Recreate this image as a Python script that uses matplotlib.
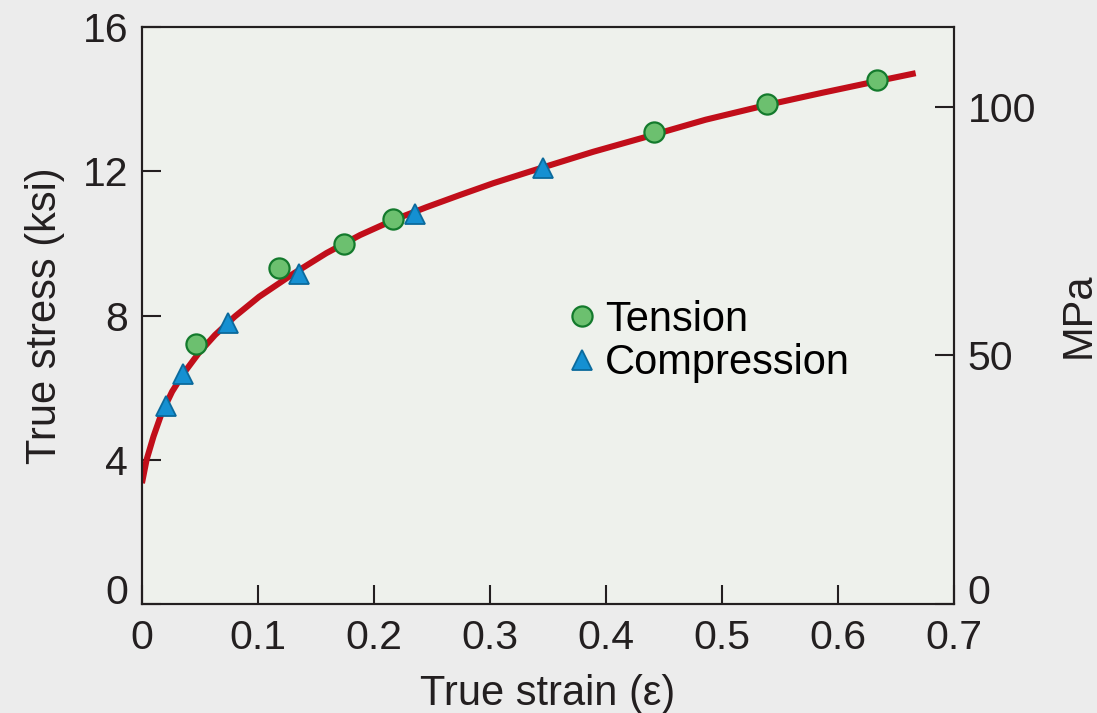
import numpy as np
import matplotlib
matplotlib.use("Agg")
import matplotlib.pyplot as plt

# fitted curve (strain, stress ksi)
curve_strain = [0.000, 0.004, 0.010, 0.017, 0.026, 0.036, 0.049, 0.063, 0.080,
                0.101, 0.131, 0.159, 0.188, 0.217, 0.245, 0.274, 0.303, 0.346,
                0.389, 0.432, 0.486, 0.539, 0.587, 0.634, 0.667]
curve_stress = [3.35, 4.00, 4.65, 5.29, 5.89, 6.40, 6.96, 7.46, 7.97,
                8.52, 9.17, 9.73, 10.23, 10.65, 11.00, 11.34, 11.67, 12.11,
                12.54, 12.93, 13.43, 13.84, 14.18, 14.50, 14.72]

# measured points
tension_strain = [0.0465, 0.118, 0.174, 0.216, 0.441, 0.539, 0.634]
tension_stress = [7.22, 9.31, 9.99, 10.67, 13.10, 13.86, 14.52]

compression_strain = [0.021, 0.035, 0.074, 0.135, 0.235, 0.346]
compression_stress = [5.50, 6.39, 7.79, 9.14, 10.81, 12.09]

x_ticks = [0, 0.1, 0.2, 0.3, 0.4, 0.5, 0.6, 0.7]
x_ticklabels = ["0", "0.1", "0.2", "0.3", "0.4", "0.5", "0.6", "0.7"]
y_ticks = [0, 4, 8, 12, 16]
mpa_ticks = [0, 50, 100]

ink = "#231f20"
plt.rcParams['font.family'] = ['Liberation Sans', 'DejaVu Sans']

fig = plt.figure(figsize=(10.97, 7.13), dpi=100, facecolor="#ececec")
ax = fig.add_axes([0.1294, 0.1529, 0.7402, 0.8092])
ax.set_facecolor("#eef1ec")

ax.plot(curve_strain, curve_stress, color="#c10e1a", lw=4.4, solid_capstyle="butt",
        solid_joinstyle="round", zorder=2)
ax.plot(tension_strain, tension_stress, ls="none", marker="o", ms=14.5,
        mfc="#6cc06f", mec="#137a2c", mew=1.6, label="Tension", zorder=3)
ax.plot(compression_strain, compression_stress, ls="none", marker="^", ms=15,
        mfc="#1590d2", mec="#0b6a9c", mew=1.3, label="Compression", zorder=3)

ax.set_xlim(0, 0.7)
ax.set_ylim(0, 16)
ax.set_xticks(x_ticks)
ax.set_xticklabels(x_ticklabels)
ax.set_yticks(y_ticks)

for s in ax.spines.values():
    s.set_linewidth(1.5)
    s.set_color(ink)

ax.tick_params(axis="both", direction="in", length=13.5, width=1.5, color=ink,
               labelcolor=ink, labelsize=29.5)
ax.tick_params(axis="y", pad=10)
ax.tick_params(axis="x", pad=11)
ax.yaxis.get_major_ticks()[0].label1.set_verticalalignment("baseline")

ax.set_xlabel("True strain (\u03b5)", fontsize=30, color=ink, labelpad=12)
ax.set_ylabel("True stress (ksi)", fontsize=30, color=ink, labelpad=13)

ax2 = ax.twinx()
ax2.set_ylim(0, 116)
ax2.set_yticks(mpa_ticks)
ax2.tick_params(axis="y", direction="in", length=13.5, width=1.5, color=ink,
                labelcolor=ink, labelsize=29.5, pad=10)
ax2.yaxis.get_major_ticks()[0].label2.set_verticalalignment("baseline")
for s in ax2.spines.values():
    s.set_linewidth(1.5)
    s.set_color(ink)
ax2.set_ylabel("MPa", fontsize=30, color=ink, labelpad=16)

ax.legend(loc="upper left", bbox_to_anchor=(0.5265, 0.527), frameon=False,
          fontsize=30, handlelength=0.6, handletextpad=0.25, labelspacing=0.08,
          borderpad=0, borderaxespad=0, markerscale=1.0)

fig.savefig("out.png", dpi=100, facecolor=fig.get_facecolor())
